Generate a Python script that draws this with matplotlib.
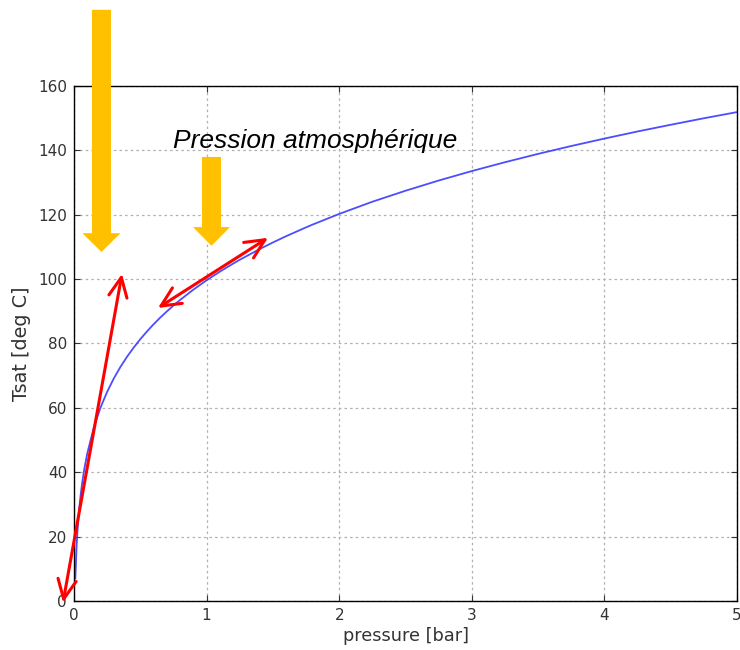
import matplotlib
matplotlib.use('Agg')
import matplotlib.pyplot as plt
from matplotlib.patches import FancyArrowPatch

# saturation curve of water
pressure = [0.01, 0.02, 0.03, 0.04, 0.05, 0.06, 0.075, 0.08, 0.1, 0.15, 0.2, 0.25,
            0.3, 0.35, 0.4, 0.45, 0.5, 0.55, 0.6, 0.65, 0.7, 0.75, 0.8, 0.9, 1.0,
            1.1, 1.2, 1.25, 1.4, 1.5, 1.6, 1.75, 1.8, 2.0, 2.25, 2.5, 2.75, 3.0,
            3.25, 3.5, 3.75, 4.0, 4.25, 4.5, 4.75, 5.0]
tsat = [6.97, 17.5, 24.08, 28.96, 32.88, 36.16, 40.29, 41.51, 45.81, 53.97, 60.06, 64.97,
        69.10, 72.69, 75.86, 78.69, 81.32, 83.70, 85.93, 88.00, 89.93, 91.76, 93.49,
        96.69, 99.61, 102.29, 104.78, 105.97, 109.29, 111.35, 113.30, 116.04, 116.91,
        120.21, 124.00, 127.41, 130.58, 133.52, 136.27, 138.86, 141.30, 143.61,
        145.82, 147.90, 149.92, 151.83]

x_ticks = [0, 1, 2, 3, 4, 5]
y_ticks = [0, 20, 40, 60, 80, 100, 120, 140, 160]

# annotation anchors (data units)
big_arrow = [(0.207, 183.6), (0.207, 108.4)]
small_arrow = [(1.037, 137.9), (1.037, 110.3)]
red_arrows = [[(-0.083, -0.5), (0.362, 101.6)],
              [(0.633, 91.0), (1.463, 112.8)]]
label_text = 'Pression atmosphérique'
label_pos = (0.747, 140.7)

fig = plt.figure(figsize=(7.4, 6.5), dpi=100)
ax = fig.add_axes([0.1, 0.0754, 0.896, 0.7926])

ax.plot(pressure, tsat, color='#3a3aff', lw=1.3, alpha=0.9)

ax.set_xlim(0, 5)
ax.set_ylim(0, 160)
ax.set_xticks(x_ticks)
ax.set_yticks(y_ticks)
ax.grid(True, color='#b0b0b0', linestyle=(0, (2, 2.5)), lw=0.9)
ax.tick_params(direction='in', top=True, right=True, labelsize=11, length=4,
               pad=5, colors='#333333', labelcolor='#333333')
for s in ax.spines.values():
    s.set_color('black')
    s.set_linewidth(1.0)
ax.set_xlabel('pressure [bar]', fontsize=12.8, color='#333333', labelpad=3)
ax.set_ylabel('Tsat [deg C]', fontsize=13.8, color='#333333', labelpad=5)

# orange arrows
for (a, b), hw in [(big_arrow, 27.4), (small_arrow, 26.6)]:
    arr = FancyArrowPatch(a, b, arrowstyle=f'simple,head_length=13.5,head_width={hw},tail_width=13.7',
                          mutation_scale=1, color='#ffc000', lw=0, shrinkA=0, shrinkB=0,
                          clip_on=False, zorder=5)
    ax.add_patch(arr)

# red double arrows
for a, b in red_arrows:
    arr = FancyArrowPatch(a, b, arrowstyle='<->,head_length=0.7,head_width=0.33',
                          mutation_scale=20, color='red', lw=2.2, shrinkA=0, shrinkB=0,
                          clip_on=False, zorder=6)
    ax.add_patch(arr)

ax.text(label_pos[0], label_pos[1], label_text, fontsize=19, style='italic',
        family='Liberation Sans', va='baseline', ha='left', color='black', zorder=7)

fig.savefig('out.png', dpi=100)
